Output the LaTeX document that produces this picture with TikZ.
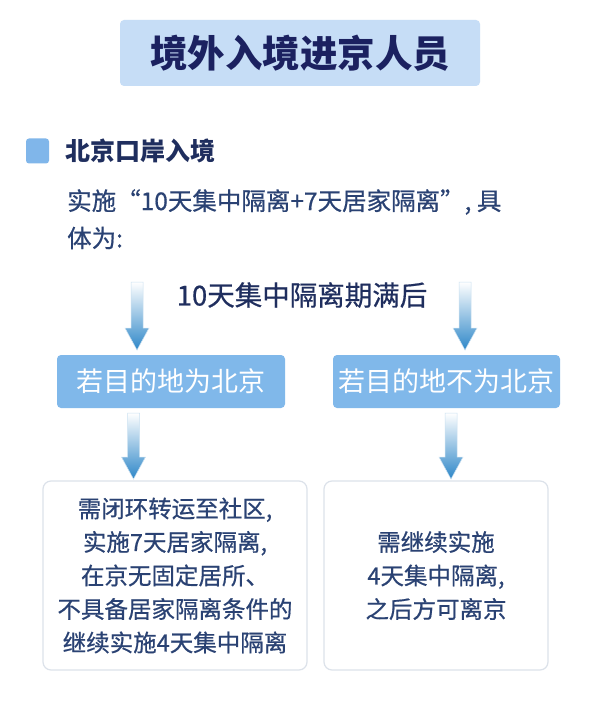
\documentclass[tikz,border=0pt]{standalone}
\usepackage{fontspec}
\setmainfont{Noto Sans CJK SC}
\newfontfamily\cjk{Noto Sans CJK SC}
\newfontfamily\cjkmed[FakeBold=0.6]{Noto Sans CJK SC}
\definecolor{titlefill}{HTML}{C6DDF6}
\definecolor{titletext}{HTML}{1B2160}
\definecolor{headtext}{HTML}{1F2E5E}
\definecolor{bodytext}{HTML}{2A4273}
\definecolor{midfill}{HTML}{80B8EA}
\definecolor{bulletfill}{HTML}{80B6EA}
\definecolor{arrowblue}{HTML}{2E87C8}
\definecolor{boxline}{HTML}{DCE2EA}
\tikzset{
  titlebox/.style={fill=titlefill, rounded corners=4pt, minimum width=360pt, minimum height=66pt, inner sep=0pt, font=\cjk\fontsize{37.5}{40}\selectfont\bfseries, text=titletext},
  bulletsq/.style={fill=bulletfill, rounded corners=3pt, minimum width=23pt, minimum height=25pt, inner sep=0pt},
  headline/.style={anchor=west, inner sep=0pt, font=\cjk\fontsize{25}{28}\selectfont\bfseries, text=headtext},
  bodyline/.style={anchor=west, inner sep=0pt, font=\cjkmed\fontsize{24.5}{28}\selectfont, text=bodytext},
  midline/.style={inner sep=0pt, font=\cjkmed\fontsize{27.5}{30}\selectfont, text=headtext},
  midbox/.style={fill=midfill, rounded corners=4pt, minimum height=53pt, inner sep=0pt, font=\cjk\fontsize{27}{30}\selectfont, text=white},
  lowbox/.style={draw=boxline, line width=1.2pt, fill=white, rounded corners=8pt, minimum height=189pt, inner sep=0pt, align=center, font=\cjkmed\fontsize{23.5}{33.5}\selectfont, text=bodytext},
  arrowshade/.style={top color=white, bottom color=arrowblue, draw=arrowblue!25, line width=0.5pt}
}
\newcommand{\myarrow}[2]{%
  \path let \p1=(#1), \p2=(#2) in
    [shade, arrowshade] (\x1-6pt,\y1) -- (\x1+6pt,\y1) -- (\x1+6pt,\y2+22pt) -- (\x1+12pt,\y2+22pt)
    -- (\x1,\y2) -- (\x1-12pt,\y2+22pt) -- (\x1-6pt,\y2+22pt) -- cycle;}
\usetikzlibrary{calc}
\begin{document}
\begin{tikzpicture}[x=1pt,y=-1pt]
\useasboundingbox[fill=white] (0,0) rectangle (600,703);
\node[titlebox] (title) at (300,53) {境外入境进京人员};
\node[bulletsq] (bullet) at (37.5,151) {};
\node[headline] (head) at (65,151) {北京口岸入境};
\node[bodyline] (body1) at (67,202) {实施“10天集中隔离+7天居家隔离”, 具};
\node[bodyline] (body2) at (67,238) {体为:};
\node[midline] (after) at (302,295) {10天集中隔离期满后};
\node[midbox, minimum width=228pt] (leftmid) at (171,381.5) {若目的地为北京};
\node[midbox, minimum width=227pt] (rightmid) at (446.5,381.5) {若目的地不为北京};
\node[lowbox, minimum width=264pt] (leftlow) at (175,575.5) {需闭环转运至社区,\\实施7天居家隔离,\\在京无固定居所、\\不具备居家隔离条件的\\继续实施4天集中隔离};
\node[lowbox, minimum width=224pt] (rightlow) at (436,575.5) {需继续实施\\4天集中隔离,\\之后方可离京};
\coordinate (s1) at (137,282);
\coordinate (s2) at (465,282);
\coordinate (e1) at (137,350);
\coordinate (e2) at (465,350);
\coordinate (s3) at (133.5,413);
\coordinate (s4) at (451,413);
\coordinate (e3) at (133.5,479);
\coordinate (e4) at (451,479);
\myarrow{s1}{e1}
\myarrow{s2}{e2}
\myarrow{s3}{e3}
\myarrow{s4}{e4}
\end{tikzpicture}
\end{document}
